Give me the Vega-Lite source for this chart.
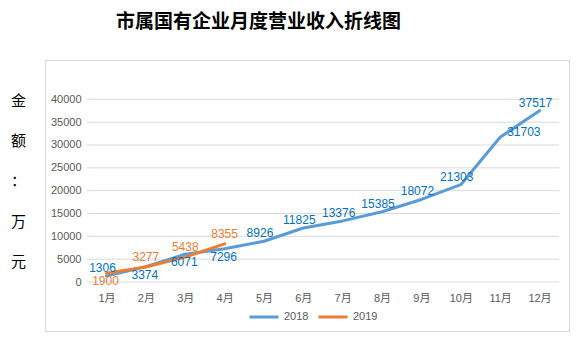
{
  "$schema": "https://vega.github.io/schema/vega-lite/v6.json",
  "width": 524,
  "height": 271,
  "autosize": {"type": "none"},
  "padding": {"left": 45, "top": 60, "right": 8, "bottom": 13},
  "background": "#ffffff",
  "config": {
    "view": {"stroke": "#D9D9D9", "strokeWidth": 1}
  },
  "title": {
    "text": "市属国有企业月度营业收入折线图",
    "anchor": "start",
    "frame": "group",
    "dx": 71,
    "offset": 28,
    "font": "Noto Sans CJK SC",
    "fontSize": 19,
    "fontWeight": "bold",
    "color": "#000000"
  },
  "datasets": {
    "revenue": [
      {"month": 1, "series": "2018", "value": 1306},
      {"month": 2, "series": "2018", "value": 3374},
      {"month": 3, "series": "2018", "value": 6071},
      {"month": 4, "series": "2018", "value": 7296},
      {"month": 5, "series": "2018", "value": 8926},
      {"month": 6, "series": "2018", "value": 11825},
      {"month": 7, "series": "2018", "value": 13376},
      {"month": 8, "series": "2018", "value": 15385},
      {"month": 9, "series": "2018", "value": 18072},
      {"month": 10, "series": "2018", "value": 21303},
      {"month": 11, "series": "2018", "value": 31703},
      {"month": 12, "series": "2018", "value": 37517},
      {"month": 1, "series": "2019", "value": 1900},
      {"month": 2, "series": "2019", "value": 3277},
      {"month": 3, "series": "2019", "value": 5438},
      {"month": 4, "series": "2019", "value": 8355}
    ],
    "grid": [
      {"value": 0}, {"value": 5000}, {"value": 10000}, {"value": 15000}, {"value": 20000},
      {"value": 25000}, {"value": 30000}, {"value": 35000}, {"value": 40000}
    ]
  },
  "encoding": {
    "y": {
      "field": "value",
      "type": "quantitative",
      "scale": {"domain": [0, 40000], "range": [222, 39.3], "nice": false, "zero": true},
      "axis": {
        "values": [0, 5000, 10000, 15000, 20000, 25000, 30000, 35000, 40000],
        "format": "d",
        "grid": false,
        "domain": false,
        "ticks": false,
        "offset": -38,
        "labelPadding": 2,
        "labelOverlap": false,
        "labelFont": "Liberation Sans",
        "labelFontSize": 11,
        "labelColor": "#595959",
        "title": ["金", "额", "：", "万", "元"],
        "titleAngle": 0,
        "titleX": -65,
        "titleY": 33,
        "titleAlign": "center",
        "titleBaseline": "top",
        "titleLineHeight": 40.4,
        "titleFont": "Noto Sans CJK SC",
        "titleFontSize": 15,
        "titleFontWeight": "normal",
        "titleColor": "#000000"
      }
    }
  },
  "layer": [
    {
      "data": {"name": "grid"},
      "mark": {"type": "rule", "color": "#D9D9D9", "strokeWidth": 1},
      "encoding": {
        "x": {"datum": 0.5, "type": "quantitative"},
        "x2": {"datum": 12.5}
      }
    },
    {
      "data": {"name": "revenue"},
      "mark": {"type": "line", "strokeWidth": 3, "strokeCap": "round", "strokeJoin": "round"},
      "encoding": {
        "x": {
          "field": "month",
          "type": "quantitative",
          "scale": {"domain": [1, 12], "range": [61.5, 494.5], "nice": false, "zero": false},
          "axis": {
            "title": null,
            "values": [1, 2, 3, 4, 5, 6, 7, 8, 9, 10, 11, 12],
            "labelExpr": "datum.value + '月'",
            "grid": false,
            "domain": false,
            "ticks": false,
            "offset": -41,
            "labelPadding": 2,
            "labelFlush": false,
            "labelOverlap": false,
            "labelFont": "Liberation Sans, Noto Sans CJK SC",
            "labelFontSize": 11,
            "labelColor": "#595959"
          }
        },
        "color": {
          "field": "series",
          "type": "nominal",
          "scale": {"domain": ["2018", "2019"], "range": ["#5B9BD5", "#ED7D31"]},
          "legend": {
            "title": null,
            "orient": "none",
            "legendX": 203,
            "legendY": 241,
            "direction": "horizontal",
            "symbolType": "stroke",
            "symbolSize": 841,
            "symbolStrokeWidth": 3,
            "labelFont": "Liberation Sans",
            "labelFontSize": 11,
            "labelColor": "#595959",
            "labelOffset": 4,
            "columnPadding": 3,
            "padding": 0
          }
        }
      }
    },
    {
      "data": {"name": "revenue"},
      "transform": [{"filter": "datum.series == '2018' && indexof([2, 3, 4, 11], datum.month) < 0"}],
      "mark": {"type": "text", "font": "Liberation Sans", "fontSize": 12, "baseline": "middle", "dx": -4, "dy": -8, "color": "#0070C0"},
      "encoding": {
        "x": {"field": "month", "type": "quantitative"},
        "text": {"field": "value", "type": "quantitative", "format": "d"}
      }
    },
    {
      "data": {"name": "revenue"},
      "transform": [{"filter": "datum.series == '2019' && datum.month > 1"}],
      "mark": {"type": "text", "font": "Liberation Sans", "fontSize": 12, "baseline": "middle", "dx": 0, "dy": -10, "color": "#ED7D31"},
      "encoding": {
        "x": {"field": "month", "type": "quantitative"},
        "text": {"field": "value", "type": "quantitative", "format": "d"}
      }
    },
    {
      "data": {"name": "revenue"},
      "transform": [{"filter": "(datum.series == '2018' && indexof([2, 3, 4], datum.month) >= 0) || (datum.series == '2019' && datum.month == 1)"}],
      "mark": {"type": "text", "font": "Liberation Sans", "fontSize": 12, "baseline": "middle", "dx": -1, "dy": 8},
      "encoding": {
        "x": {"field": "month", "type": "quantitative"},
        "text": {"field": "value", "type": "quantitative", "format": "d"},
        "color": {"condition": {"test": "datum.series == '2018'", "value": "#0070C0"}, "value": "#ED7D31"}
      }
    },
    {
      "data": {"name": "revenue"},
      "transform": [{"filter": "datum.series == '2018' && datum.month == 11"}],
      "mark": {"type": "text", "font": "Liberation Sans", "fontSize": 12, "baseline": "middle", "align": "left", "dx": 7, "dy": -5, "color": "#0070C0"},
      "encoding": {
        "x": {"field": "month", "type": "quantitative"},
        "text": {"field": "value", "type": "quantitative", "format": "d"}
      }
    }
  ]
}
